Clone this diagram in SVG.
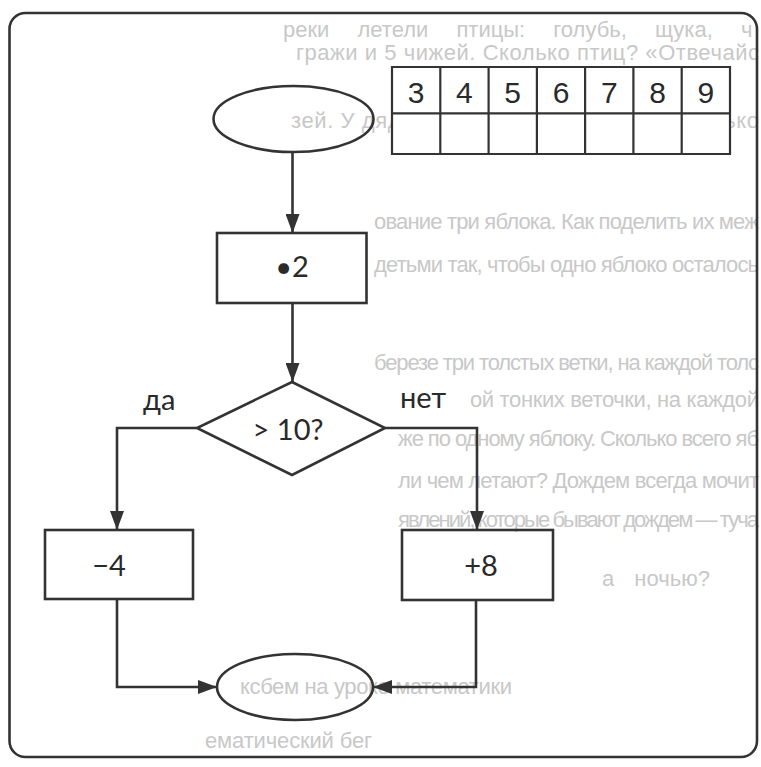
<svg xmlns="http://www.w3.org/2000/svg" width="761" height="767" viewBox="0 0 761 767">
<style>
.ghost{font-family:"Liberation Sans",Arial,sans-serif;font-size:22px;fill:#c8c8c8}
.shape{fill:none;stroke:#333;stroke-width:2.6}
.conn{fill:none;stroke:#333;stroke-width:2.6}
.lbl{font-family:Lato,"Open Sans",sans-serif;font-size:29px;fill:#2a2a2a}
.num{font-family:"Liberation Sans Narrow","Liberation Sans",Arial,sans-serif;font-size:30px;fill:#2a2a2a;text-anchor:middle}
.grid{fill:none;stroke:#333;stroke-width:2.2}
</style>
<defs>
<marker id="ah" viewBox="0 0 19 14" refX="19" refY="7" markerWidth="19" markerHeight="14" markerUnits="userSpaceOnUse" orient="auto">
<path d="M0,0 L19,7 L0,14 z" fill="#333"/>
</marker>
</defs>
<rect width="761" height="767" fill="#fff"/>
<g id="background-text">
<text class="ghost" x="283" y="37" font-size="23" word-spacing="22">реки летели птицы: голубь, щука, ч</text>
<text class="ghost" x="296" y="60" textLength="463" lengthAdjust="spacing">гражи и 5 чижей. Сколько птиц? «Отвечайс</text>
<text class="ghost" x="291" y="128" textLength="468" lengthAdjust="spacing">зей. У дяденьки гостей попросили. Сколько</text>
<text class="ghost" x="374" y="229" textLength="385" lengthAdjust="spacing">ование три яблока. Как поделить их меж</text>
<text class="ghost" x="374" y="272" textLength="385" lengthAdjust="spacing">детьми так, чтобы одно яблоко осталось</text>
<text class="ghost" x="374" y="370" textLength="385" lengthAdjust="spacing">березе три толстых ветки, на каждой толс</text>
<text class="ghost" x="470" y="407" textLength="289" lengthAdjust="spacing">ой тонких веточки, на каждой</text>
<text class="ghost" x="398" y="446" textLength="361" lengthAdjust="spacing">же по одному яблоку. Сколько всего яб</text>
<text class="ghost" x="398" y="488" textLength="361" lengthAdjust="spacing">ли чем летают? Дождем всегда мочит</text>
<text class="ghost" x="398" y="527" textLength="361" lengthAdjust="spacing">явлений, которые бывают дождем — туча</text>
<text class="ghost" x="602" y="586" font-size="21" word-spacing="14">а ночью?</text>
<text class="ghost" x="240" y="694" textLength="272" lengthAdjust="spacing">ксбем на уроке математики</text>
<text class="ghost" x="205" y="748" textLength="167" lengthAdjust="spacing">ематический бег</text>
</g>
<rect x="9.5" y="13" width="747.5" height="744" rx="16" fill="none" stroke="#333" stroke-width="2.6"/>
<g id="table">
<rect x="392" y="67" width="338" height="87" fill="#fff" stroke="none"/>
<path class="grid" d="M392,67H730V154H392Z M392,113.3H730 M440.3,67V154 M488.6,67V154 M536.9,67V154 M585.1,67V154 M633.4,67V154 M681.7,67V154"/>
<text class="num" x="416.1" y="103">3</text>
<text class="num" x="464.4" y="103">4</text>
<text class="num" x="512.7" y="103">5</text>
<text class="num" x="561" y="103">6</text>
<text class="num" x="609.3" y="103">7</text>
<text class="num" x="657.6" y="103">8</text>
<text class="num" x="705.9" y="103">9</text>
</g>
<g id="connectors">
<path class="conn" d="M292.5,152V233" marker-end="url(#ah)"/>
<path class="conn" d="M292.5,303V382" marker-end="url(#ah)"/>
<path class="conn" d="M197,428H117V530" marker-end="url(#ah)"/>
<path class="conn" d="M385,428H477V530" marker-end="url(#ah)"/>
<path class="conn" d="M117,599V687H217" marker-end="url(#ah)"/>
<path class="conn" d="M476,600V687H373" marker-end="url(#ah)"/>
</g>
<g id="start">
<ellipse class="shape" cx="293.5" cy="119" rx="80" ry="33"/>
</g>
<g id="mul2">
<rect class="shape" x="217" y="233" width="149.5" height="70"/>
<text class="lbl" x="292" y="277" text-anchor="middle">•2</text>
</g>
<g id="cond">
<path class="shape" d="M292,382 L385,428 L292,475 L197,428 Z"/>
<text class="lbl" x="288" y="440" text-anchor="middle">&gt; 10?</text>
</g>
<g id="label-yes"><text class="lbl" x="143" y="410">да</text></g>
<g id="label-no"><text class="lbl" x="400" y="408">нет</text></g>
<g id="minus4">
<rect class="shape" x="45" y="530" width="148" height="69"/>
<text class="lbl" x="109" y="576" text-anchor="middle">−4</text>
</g>
<g id="plus8">
<rect class="shape" x="402" y="530" width="151" height="70"/>
<text class="lbl" x="481" y="576" text-anchor="middle">+8</text>
</g>
<g id="end">
<ellipse class="shape" cx="295" cy="687" rx="78" ry="33"/>
</g>
</svg>
